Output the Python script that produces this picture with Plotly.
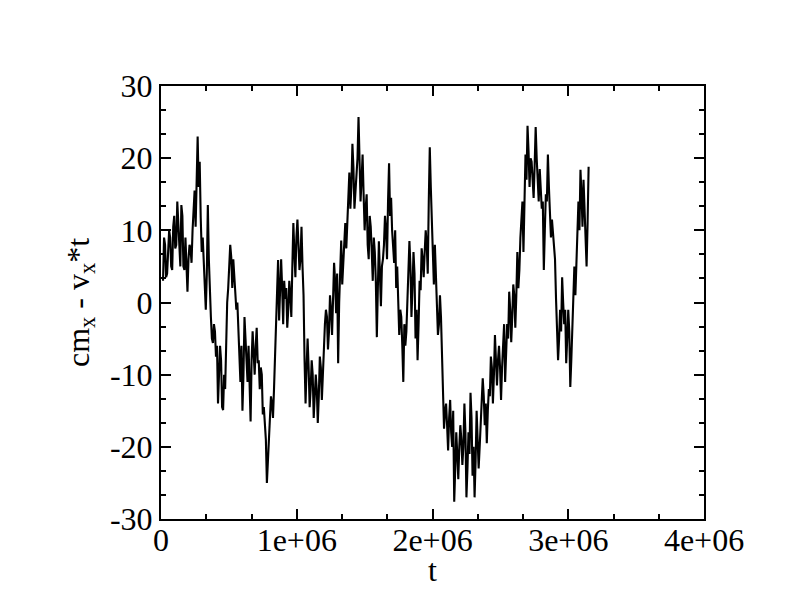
import plotly.graph_objects as go

# sampling of the time series (t in simulation time units)
t_start = 15000
t_step = 15000

# cm_x - v_x*t at t_start + k*t_step
values = [
    3, 8, 4, 10, 5, 10.5, 7.5, 14, 8, 13.5,
    5, 9, 1.5, 8, 5.5, 13, 10.5, 23, 19.5, 7,
    5, -1, 13.5, 1, -5, -3, -7.5, -14, -6, -14.5,
    -10, -3, 2, 8, 2, 4, -1, -4, -11, -15,
    -2, -8, -6, -16.5, -4, -10, -3.5, -8, -9, -15.5,
    -17, -25, -19, -13, -16, -7, 3.5, -2.5, 6, -3,
    0.5, -3.5, 3, -2, 11, 3.5, 11.5, 4.5, 10.5, 1,
    -14, -5, -14.5, -8, -16, -10, -16.7, -7.5, -13.5, -6,
    -1, -6.5, 1, -4.5, 5.5, -1.5, -8.4, 6, 2.5, 8.5,
    7.5, 15, 13, 22, 13, 18.5, 25.7, 14, 20.5, 10,
    15, 6, 10.5, 3, 7, -4.8, 8.5, -0.5, 6, 12,
    6, 19.3, 14.5, 6.5, 10, 5, -4.5, -2, -11, -6,
    -0.5, 8.5, -2, 7, -5, -8, 3, 7.5, 3.5, 10,
    4, 21.5, 11, 2.5, 3, -4.5, 1, -7.5, -17.5, -14,
    -20.5, -13.5, -20, -27.6, -18, -24.5, -17, -22.5, -14, -27,
    -18, -12.5, -24, -27, -15, -23, -16, -10.5, -17, -19.5,
    -12, -7.5, -14, -4.5, -11.5, -6, -13.5, -5.5, -11, -3,
    1.5, -5.5, 2.5, -3.5, 7, 4.5, 12, 7, 20.5, 24.5,
    16, 19.5, 14.5, 24.3, 17.5, 18.5, 13, 4.5, 15, 20.5,
    10.5, 11.5, 7.5, 0.5, -8, -1, 3.5, -3, -8.4, -1,
    -11.7, -3, 5, 6, 14, 18.4, 10.5, 13, 5, 18.8,
]

# cm_x - v_x*t at the half steps t_start + (k+0.5)*t_step
values_mid = [
    9, 3.5, 7, 9, 4.5, 12, 8, 11, 5, 12,
    4.5, 5, 6, 7.5, 10, 15.5, 19.7, 16, 11.8, 9,
    2, 4, 6, -2, -5.6, -4, -6, -10, -8, -14.9,
    -12, 0, 5, 6.3, 6, 1.7, 0, -8, -6, -10,
    -5, -11, -12, -8, -7, -6, -8.4, -12, -10, -14.5,
    -19, -22, -17, -14, -12, -2, 5.9, 1, 2, 3,
    2, -1, 1, 5, 7, 9, 8, 6, 5, -8,
    -9, -9, -12, -10, -13, -12, -13, -9, -10, -3,
    -2, -4, -1, 2, 3, 4, 0, 8.6, 6, 11,
    12, 18, 16, 18.7, 16, 20, 21, 17, 15, 13,
    8, 12, 7, 9, 3, 2, 4, 5, 8, 10,
    14, 12, 10, 5.5, 2, 0, -1, -6, -3, -4,
    3, 5, 2, 4, -1, -3, 1.7, 6, 7, 8,
    14, 16, 7, 8, -1, -3, -2, -12, -15, -17,
    -16, -18, -15, -23, -21, -20, -19, -20, -18, -23,
    -21, -16, -20, -22, -19, -20, -14, -13, -14, -15,
    -13, -9, -10, -8, -8, -9, -9, -3, -7, -5,
    -1, -2, 1, 1, 2, 9, 14, 13, 17, 21,
    20, 17, 19, 20, 14, 16, 14, 10, 14, 16,
    9, 9.5, 6, -3, -5, -4, 0, -1, -5, -4,
    -8, -1, 1, 11, 10, 15, 17, 10, 11,
]

# merge the two sample sets in time order
t = []
y = []
for k, v in enumerate(values):
    t.append(t_start + t_step * k)
    y.append(v)
    if k < len(values_mid) and k < len(values) - 1:
        t.append(t_start + t_step * (k + 0.5))
        y.append(values_mid[k])

x_tickvals = [0, 1e6, 2e6, 3e6, 4e6]
x_ticktext = ["0", "1e+06", "2e+06", "3e+06", "4e+06"]
y_tickvals = [-30, -20, -10, 0, 10, 20, 30]
y_ticktext = ["-30", "-20", "-10", "0", "10", "20", "30"]

FONT = "Liberation Serif, Times New Roman, serif"

fig = go.Figure()
fig.add_trace(go.Scatter(x=t, y=y, mode="lines",
                         line=dict(color="black", width=2.1),
                         showlegend=False))

axis_common = dict(
    showline=True, linecolor="black", linewidth=2, mirror="ticks",
    ticks="inside", ticklen=10, tickwidth=2, tickcolor="black",
    showgrid=False, zeroline=False,
    tickfont=dict(family=FONT, size=32, color="black"),
)

fig.update_xaxes(range=[0, 4e6], tickmode="array", tickvals=x_tickvals,
                 ticktext=x_ticktext, ticklabelstandoff=-8,
                 minor=dict(ticks="inside", ticklen=5, tickwidth=2,
                            tickcolor="black", dtick=1e6 / 3, showgrid=False),
                 **axis_common)
fig.update_yaxes(range=[-30, 30], tickmode="array", tickvals=y_tickvals,
                 ticktext=y_ticktext,
                 minor=dict(ticks="inside", ticklen=5, tickwidth=2,
                            tickcolor="black", dtick=10 / 3, showgrid=False),
                 title=dict(text="cm<sub>x</sub> - v<sub>x</sub>*t",
                            font=dict(family=FONT, size=32, color="black"),
                            standoff=11),
                 **axis_common)

# x-axis title placed just under the tick labels
fig.add_annotation(text="t", xref="paper", yref="paper", x=0.5, y=0,
                   xanchor="center", yanchor="top", yshift=-31, showarrow=False,
                   font=dict(family=FONT, size=32, color="black"))

fig.update_layout(width=792, height=612,
                  margin=dict(l=153, r=96, t=78, b=101),
                  paper_bgcolor="white", plot_bgcolor="white")

fig.write_html("out.html")
